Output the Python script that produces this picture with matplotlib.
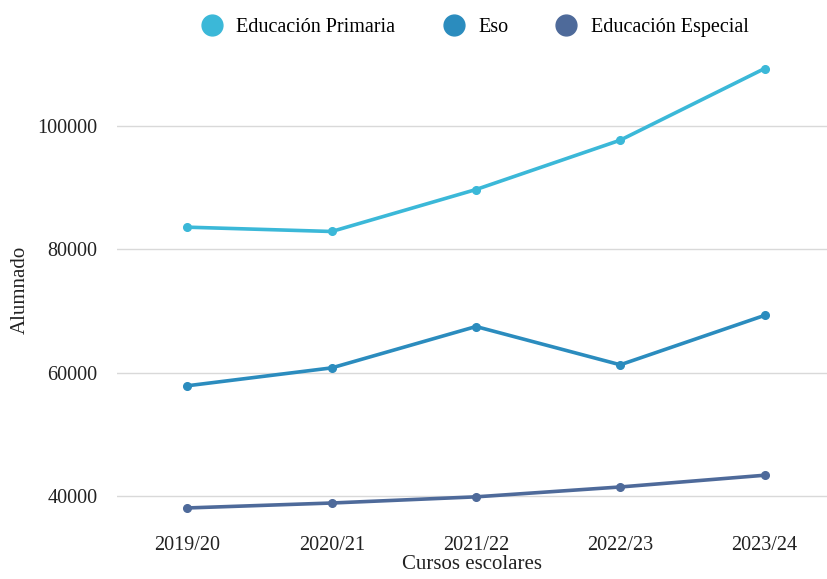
import matplotlib.pyplot as plt
from matplotlib.lines import Line2D

cursos = ['2019/20', '2020/21', '2021/22', '2022/23', '2023/24']
primaria = [83600, 82900, 89700, 97700, 109300]
eso = [57900, 60800, 67500, 61300, 69300]
especial = [38100, 38900, 39900, 41500, 43400]

series = [
    ('Educación Primaria', primaria, '#3bb8d8'),
    ('Eso', eso, '#2b8cbe'),
    ('Educación Especial', especial, '#4e6a9a'),
]

plt.rcParams['font.family'] = ['Liberation Serif', 'DejaVu Serif']

fig = plt.figure(figsize=(8.28, 5.79), dpi=100)
ax = fig.add_axes([0.141, 0.095, 0.859, 0.81])

x = list(range(len(cursos)))
for nombre, valores, color in series:
    ax.plot(x, valores, color=color, linewidth=2.6, marker='o', markersize=5.5,
            solid_capstyle='round', label=nombre, zorder=3)

ax.set_xlim(-0.49, 4.44)
ax.set_ylim(35500, 111500)
ax.set_yticks([40000, 60000, 80000, 100000])
ax.set_xticks(x)
ax.set_xticklabels(cursos)
ax.grid(axis='y', color='#d9d9d9', linewidth=1)
ax.set_axisbelow(True)
for s in ax.spines.values():
    s.set_visible(False)
ax.tick_params(length=0, labelsize=14.5, colors='#222222', pad=9)
ax.tick_params(axis='y', pad=14)

ax.set_xlabel('Cursos escolares', fontsize=15, color='#222222', labelpad=0)
ax.set_ylabel('Alumnado', fontsize=15, color='#222222', labelpad=5)

handles = [Line2D([], [], linestyle='none', marker='o', markersize=15,
                  color=c) for _, _, c in series]
fig.legend(handles, [n for n, _, _ in series], loc='center',
           bbox_to_anchor=(0.568, 0.952), ncol=3, frameon=False,
           fontsize=14.5, handletextpad=0.2, columnspacing=1.9)

fig.savefig('out.png', dpi=100)
